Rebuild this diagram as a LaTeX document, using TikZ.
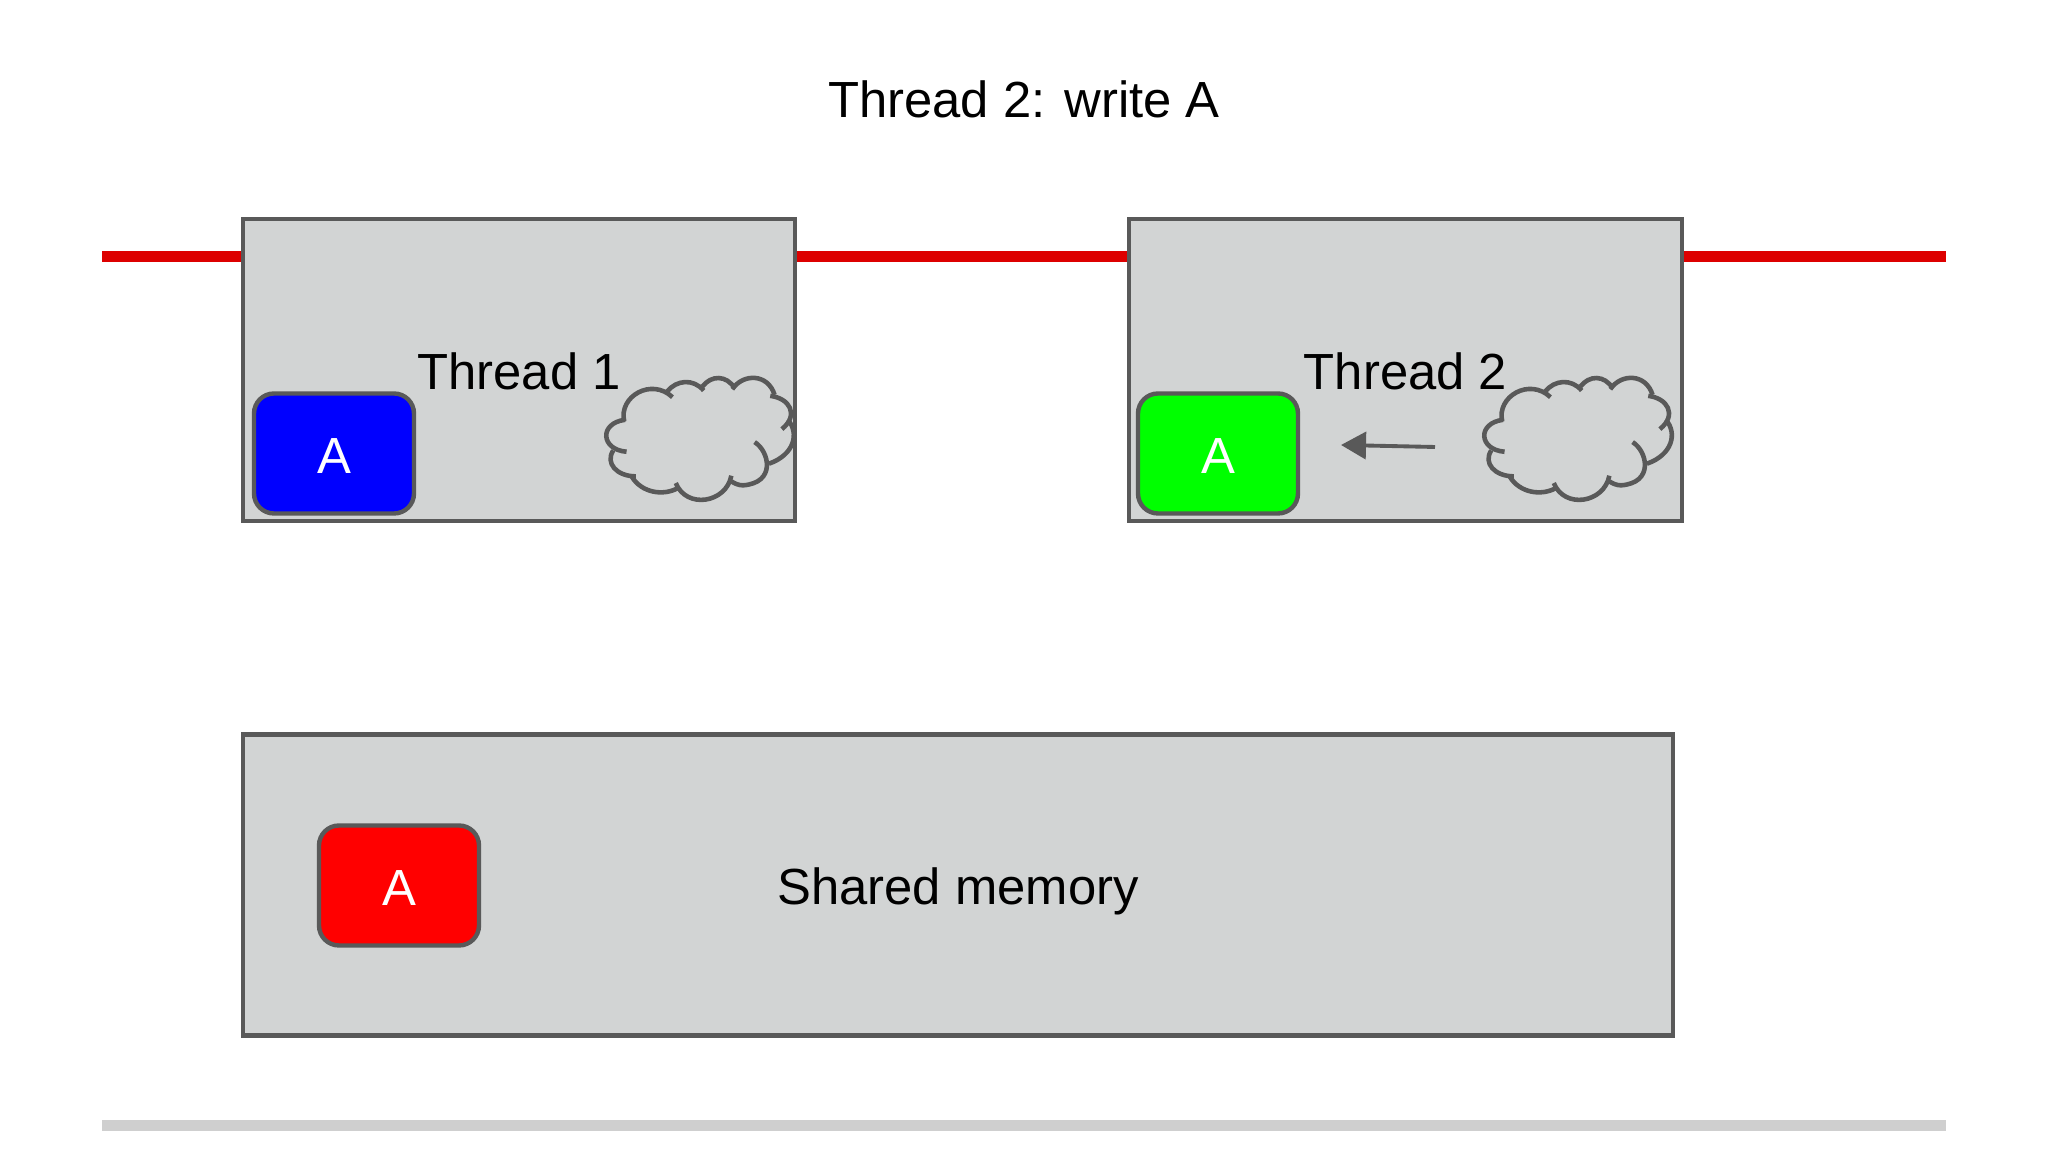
\documentclass[tikz,border=0pt]{standalone}
\usepackage{fontspec}
\setmainfont{Liberation Sans}
\usetikzlibrary{arrows.meta}
\definecolor{edgeGray}{HTML}{595959}
\definecolor{boxGray}{HTML}{D2D4D4}
\definecolor{barGray}{HTML}{CFCFCF}
\definecolor{lineRed}{HTML}{DD0000}
\tikzset{
    label text/.style={font=\fontsize{14.45pt}{17pt}\selectfont, text=black},
    panel/.style={draw=edgeGray, line width=1.15pt, fill=boxGray, outer sep=0pt, label text,
        text height=11.2pt, text depth=0pt},
    varbox/.style={draw=edgeGray, line width=1.25pt, rounded corners=0.2cm, outer sep=0pt,
        minimum width=1.60cm, minimum height=1.20cm, text=white, text height=11.2pt, text depth=0pt,
        font=\fontsize{14.45pt}{17pt}\selectfont},
    band/.style={line width=0.115cm},
}
\newcommand{\threadCloud}[2]{%
    \begin{scope}[shift={(#1,#2)}, x=0.00333cm, y=-0.00333cm, draw=edgeGray, line width=1.3pt]
    \draw (133,245) .. controls (115,170) and (215,112) .. (278,172);
    \draw (262,155) .. controls (290,120) and (340,115) .. (372,152);
    \draw (368,140) .. controls (395,105) and (440,105) .. (465,145);
    \draw (458,148) .. controls (490,100) and (565,100) .. (585,165);
    \draw (572,168) .. controls (630,175) and (660,225) .. (607,268);
    \draw (625,240) .. controls (660,280) and (645,345) .. (568,372);
    \draw (525,307) .. controls (570,335) and (590,430) .. (490,437) .. controls (478,437) and (465,432) .. (455,425);
    \draw (455,408) .. controls (440,490) and (320,510) .. (288,430);
    \draw (295,445) .. controls (250,470) and (185,460) .. (155,410);
    \draw (168,410) .. controls (110,410) and (75,370) .. (100,332);
    \draw (140,336) .. controls (62,330) and (57,250) .. (135,240);
    \end{scope}
}

\begin{document}
\begin{tikzpicture}
    \useasboundingbox (0,0) rectangle (20.48,11.52);

    % --- title ---
    \node[label text] (title) at (10.24, 10.53) {Thread 2: write A};

    % --- bands behind the panels ---
    \coordinate (bandStart) at (1.02, 8.955);
    \coordinate (bandEnd) at (19.46, 8.955);
    \draw[band, lineRed] (bandStart) -- (bandEnd);
    \coordinate (baseStart) at (1.02, 0.265);
    \coordinate (baseEnd) at (19.46, 0.265);
    \draw[band, barGray] (baseStart) -- (baseEnd);

    % --- thread 1 ---
    \node[panel, minimum width=5.52cm, minimum height=3.02cm] (threadOne) at (5.19, 7.82) {Thread 1};
    \node[varbox, fill=blue] (varOne) at (3.34, 6.985) {A};
    \threadCloud{5.80}{8.12}

    % --- thread 2 ---
    \node[panel, minimum width=5.53cm, minimum height=3.02cm] (threadTwo) at (14.055, 7.82) {Thread 2};
    \node[varbox, fill=green] (varTwo) at (12.18, 6.985) {A};
    \threadCloud{14.58}{8.12}
    \coordinate (writeFrom) at (14.35, 7.05);
    \coordinate (writeTo) at (13.41, 7.07);
    \draw[edgeGray, line width=1.1pt, -{Triangle[length=0.25cm, width=0.27cm]}] (writeFrom) -- (writeTo);

    % --- shared memory ---
    \node[panel, minimum width=14.30cm, minimum height=3.01cm] (memory) at (9.58, 2.67) {Shared memory};
    \node[varbox, fill=red] (varMem) at (3.99, 2.665) {A};

\end{tikzpicture}
\end{document}
